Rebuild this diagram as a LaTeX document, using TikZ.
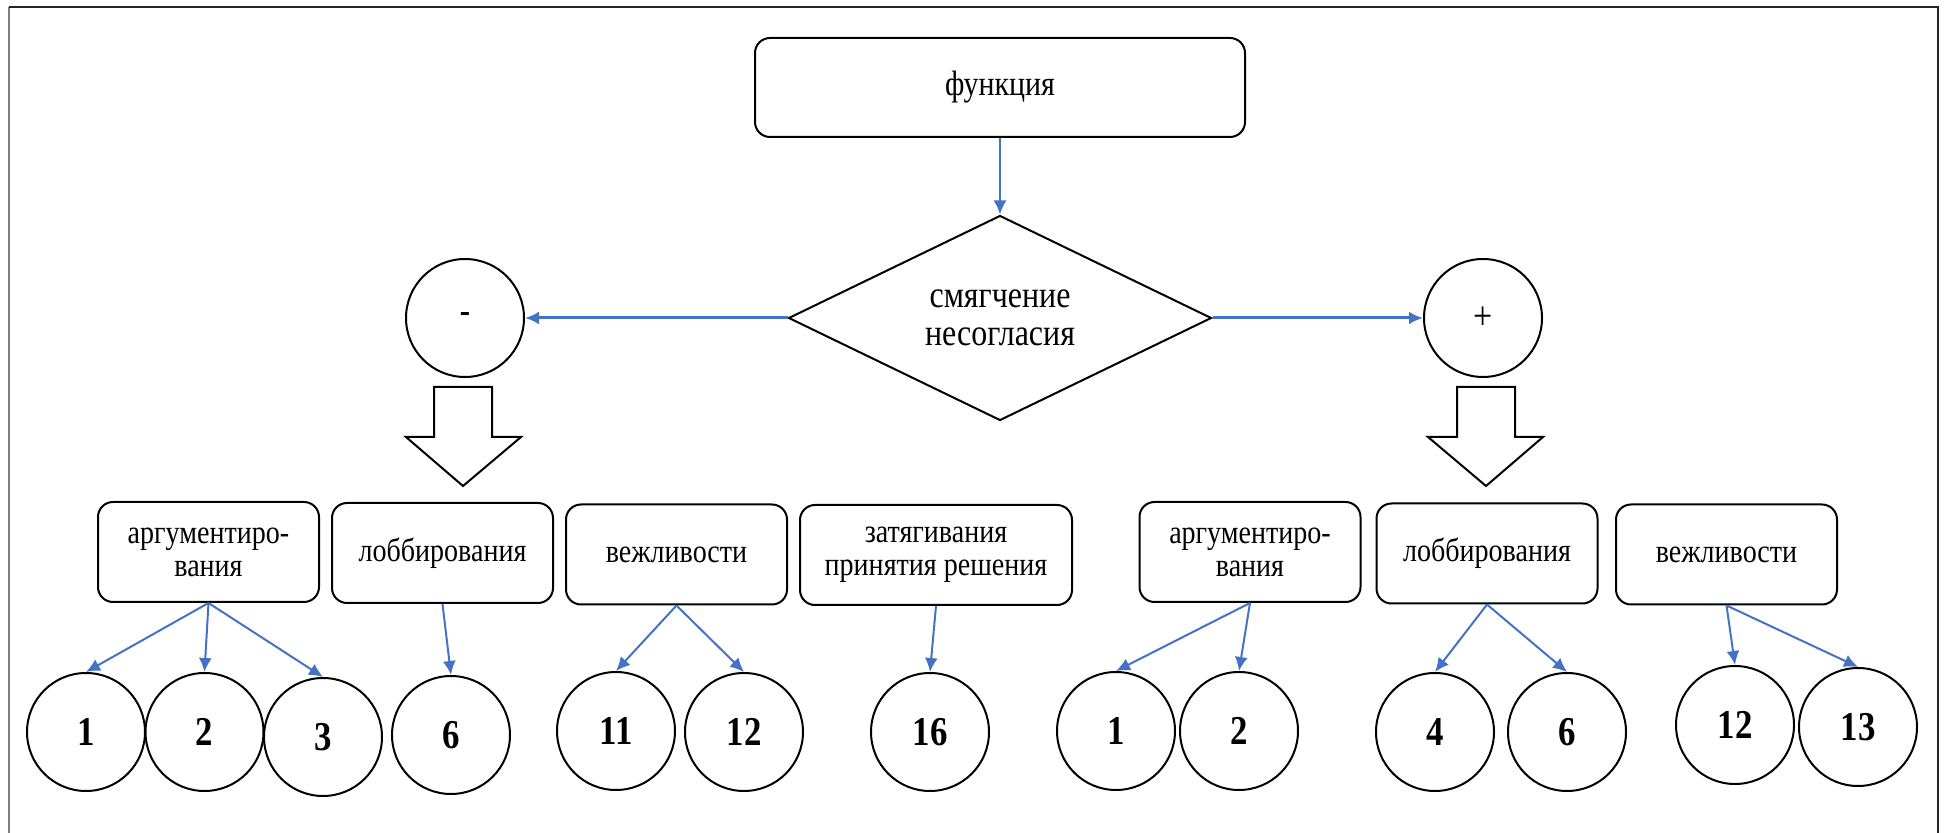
\documentclass[tikz,border=0pt]{standalone}
\usepackage{fontspec}
\setmainfont{Liberation Serif}[FakeStretch=0.85]
\usepackage{tikz}
\usetikzlibrary{arrows.meta, shapes.geometric}
\definecolor{linkblue}{RGB}{68,114,196}

\begin{document}
\begin{tikzpicture}[x=0.5pt, y=-0.5pt,
        box/.style = {draw, line width=1pt, rounded corners=7.5pt, minimum width=110.5pt, minimum height=50pt, align=center, font=\fontsize{16.5}{16.5}\selectfont},
        main/.style = {draw, circle, line width=1pt, minimum size=59pt, inner sep=0pt, font=\fontsize{20.5}{24}\selectfont\bfseries},
        link/.style = {-{Latex[length=7pt, width=6.5pt]}, linkblue, line width=1pt}]
            \useasboundingbox (0,0) rectangle (1945,833);
            \draw[gray, line width=1pt] (8.7,833) -- (8.7,7);
            \draw[black!85, line width=1pt] (8.7,7) -- (1938,7) -- (1938,833);

            \node[box, minimum width=245pt, minimum height=49.5pt, font=\fontsize{17.6}{20}\selectfont] (func) at (1000,87.5) {функция};
            \node[draw, diamond, aspect=2, inner sep=0pt, line width=1pt, minimum width=211.5pt, minimum height=102.5pt, align=center, font=\fontsize{18.8}{19}\selectfont] (soft) at (1000,318) {смягчение\\несогласия};

            \path[link] (func.south) edge (soft.north);

            \node[main, font=\fontsize{18}{20}\selectfont\bfseries] (minus) at (465,318) {-};
            \node[main, font=\fontsize{20}{24}\selectfont] (plus) at (1483,318) {+};

            \path[link, line width=1.5pt] (soft.west) edge (minus.east);
            \path[link, line width=1.5pt] (soft.east) edge (plus.west);

            \draw[line width=1pt] (434,387) -- (492,387) -- (492,437) -- (521,437) -- (463,486) -- (406,437) -- (434,437) -- cycle;
            \draw[line width=1pt] (1457,387) -- (1515,387) -- (1515,437) -- (1543,437) -- (1486,486) -- (1428,437) -- (1457,437) -- cycle;

            \node[box] (argL) at (208.5,552) {аргументиро-\\вания};
            \node[box] (lobL) at (442.5,553) {лоббирования};
            \node[box] (vezL) at (676.5,554.5) {вежливости};
            \node[box, minimum width=136pt] (zat) at (936,555) {затягивания\\принятия решения};
            \node[box] (argR) at (1250,552) {аргументиро-\\вания};
            \node[box] (lobR) at (1487,553.5) {лоббирования};
            \node[box] (vezR) at (1726.5,554.5) {вежливости};

            \node[main] (L1) at (86,732) {1};
            \node[main] (L2) at (204.5,732) {2};
            \node[main] (L3) at (323,737) {3};
            \node[main] (L6) at (451,735) {6};
            \node[main] (L11) at (616,731) {11};
            \node[main] (L12) at (744,732) {12};
            \node[main] (L16) at (930,732) {16};
            \node[main] (R1) at (1116,731) {1};
            \node[main] (R2) at (1239,731) {2};
            \node[main] (R4) at (1435,732) {4};
            \node[main] (R6) at (1567,732) {6};
            \node[main] (R12) at (1735,725) {12};
            \node[main] (R13) at (1858,727) {13};

            \path[link] (argL.south) edge (L1.north);
            \path[link] (argL.south) edge (L2.north);
            \path[link] (argL.south) edge (L3.north);
            \path[link] (lobL.south) edge (L6.north);
            \path[link] (vezL.south) edge (L11.north);
            \path[link] (vezL.south) edge (L12.north);
            \path[link] (zat.south) edge (L16.north);
            \path[link] (argR.south) edge (R1.north);
            \path[link] (argR.south) edge (R2.north);
            \path[link] (lobR.south) edge (R4.north);
            \path[link] (lobR.south) edge (R6.north);
            \path[link] (vezR.south) edge (R12.north);
            \path[link] (vezR.south) edge (R13.north);
        \end{tikzpicture}
\end{document}
